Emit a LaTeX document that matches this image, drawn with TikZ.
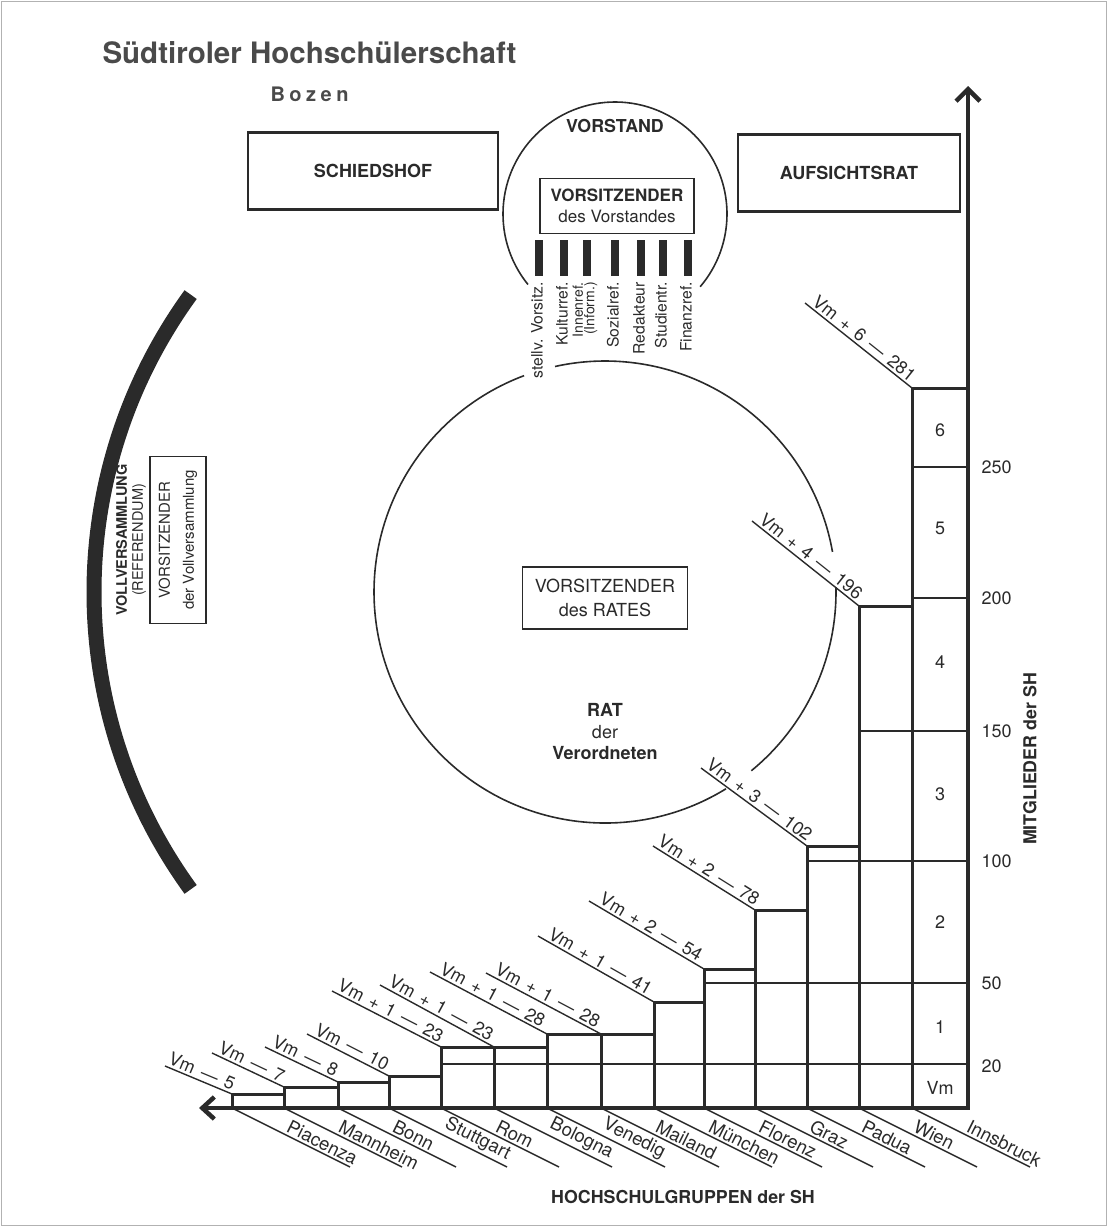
\documentclass[tikz,border=0pt]{standalone}
\usepackage{fontspec}
\setmainfont{TeX Gyre Heros}
\usepackage{tikz}
\usetikzlibrary{positioning, arrows.meta}
\definecolor{ink}{HTML}{2A2A2A}
\definecolor{headgray}{HTML}{4A4A4A}
\newcommand{\fsz}[2]{\fontsize{#1}{#2}\selectfont}
\newcommand{\widespaced}[1]{{\spaceskip=0.42em\relax #1}}

\tikzset{
  panel/.style={draw=ink, line width=2.2pt, minimum width=250pt, minimum height=77pt, font=\fsz{18}{20}\bfseries, text=ink},
  ring/.style={draw=ink, line width=1.6pt},
  barline/.style={draw=ink, line width=3pt},
  levelline/.style={draw=ink, line width=1.2pt},
  leader/.style={draw=ink, line width=1.4pt},
  axisline/.style={draw=ink, line width=4.5pt},
  dutybar/.style={fill=ink, minimum width=8pt, minimum height=36pt, inner sep=0pt},
  dutylabel/.style={rotate=90, anchor=east, font=\fsz{15.7}{16}, text=ink, inner sep=1pt},
  vmlabel/.style={font=\fsz{18}{19}, text=ink, inner sep=2pt},
  citylabel/.style={font=\fsz{18.5}{19}, text=ink, inner sep=2pt},
  ticklabel/.style={anchor=west, font=\fsz{18}{18}, text=ink},
  caption/.style={font=\fsz{17.8}{19}\bfseries, text=ink}
}

\begin{document}
\begin{tikzpicture}[x=1pt, y=-1pt]
\useasboundingbox (0,0) rectangle (1108,1227);
\draw[gray!60, line width=1pt] (1.5,1.5) rectangle (1106.5,1225.5);

% heading
\node[anchor=west, font=\fsz{29.5}{31}\bfseries, text=headgray] (title) at (99,53) {Südtiroler Hochschülerschaft};
\node[anchor=west, font=\fsz{20}{20}\bfseries, text=headgray] (town) at (267,94) {B\kern4.5pt o\kern4.5pt z\kern4.5pt e\kern4.5pt n};

% upper boxes
\node[panel] (court) at (373,171) {SCHIEDSHOF};
\node[panel, minimum width=222pt] (board) at (849,173) {AUFSICHTSRAT};

% Vorstand
\coordinate (vc) at (615,214);
\draw[ring] (vc) ++(141:112) arc[start angle=141, end angle=400.5, radius=112];
\node[font=\fsz{17.8}{19}\bfseries, text=ink] (vorstand) at (615,126) {VORSTAND};
\node[draw=ink, line width=1.8pt, align=center, font=\fsz{17}{21}, text=ink, minimum width=154pt, minimum height=55pt, inner sep=2pt] (chair) at (617,206) {\textbf{VORSITZENDER}\\des Vorstandes};
\foreach \x [count=\i] in {539,564,587,615,641,663,688}
  \node[dutybar] (duty\i) at (\x,258) {};
\node[dutylabel] (role1) at (537,281) {stellv. Vorsitz.};
\node[dutylabel] (role2) at (562,281) {Kulturref.};
\node[dutylabel, align=right, font=\fsz{14}{11.5}] (role3) at (585,281) {Innenref.\\(Inform.)};
\node[dutylabel] (role4) at (613,281) {Sozialref.};
\node[dutylabel] (role5) at (639,281) {Redakteur};
\node[dutylabel] (role6) at (661,281) {Studientr.};
\node[dutylabel] (role7) at (686,281) {Finanzref.};

% Rat der Verordneten
\coordinate (rc) at (605,592);
\draw[ring] (rc) ++(-102.5:231) arc[start angle=-102.5, end angle=-10, radius=231];
\draw[ring] (rc) ++(-1.2:231) arc[start angle=-1.2, end angle=50.7, radius=231];
\draw[ring] (rc) ++(58.4:231) arc[start angle=58.4, end angle=249.5, radius=231];
\node[draw=ink, line width=1.5pt, align=center, font=\fsz{18}{24}, text=ink, minimum width=165pt, minimum height=62pt] (ratchair) at (605,598) {VORSITZENDER\\des RATES};
\node[align=center, font=\fsz{18}{21.5}, text=ink] (council) at (605,732) {\textbf{RAT}\\der\\\textbf{Verordneten}};

% Vollversammlung
\coordinate (ac) at (600,592);
\draw[draw=ink, line width=15pt] (ac) ++(144:506) arc[start angle=144, end angle=216, radius=506];
\node[rotate=90, align=center, font=\fsz{14.5}{16}, text=ink] (assembly) at (131,540) {\textbf{VOLLVERSAMMLUNG}\\(REFERENDUM)};
\node[rotate=90, draw=ink, line width=1.3pt, align=center, font=\fsz{15}{24}, text=ink, minimum width=167pt, minimum height=56pt] (assemblychair) at (178,540) {VORSITZENDER\\der Vollversammlung};

% Saeulen der Hochschulgruppen
\draw[levelline] (441,1064) -- (968,1064);
\draw[levelline] (704,983) -- (968,983);
\draw[levelline] (807,861) -- (968,861);
\draw[levelline] (859,731) -- (968,731);
\draw[levelline] (912,598) -- (968,598);
\draw[levelline] (912,467) -- (968,467);
\foreach \l/\r/\t in {232/284/1094, 284/338/1087, 338/389/1082, 389/441/1076, 441/494/1047, 494/547/1047, 547/601/1034, 601/654/1034, 654/704/1002, 704/755/969, 755/807/910, 807/859/846, 859/912/606, 912/968/388}
  \draw[barline] (\l,1108) rectangle (\r,\t);

% Vertreterzahlen
\foreach \sx/\sy/\ex/\ey/\txt [count=\i] in {165/1066/232/1094/{Vm — 5}, 212/1053/284/1087/{Vm — 7}, 265/1047/338/1082/{Vm — 8}, 307/1034/389/1076/{Vm — 10}, 332/991/441/1047/{Vm + 1 — 23}, 380/985/494/1047/{Vm + 1 — 23}, 430/972/547/1034/{Vm + 1 — 28}, 486/973/601/1034/{Vm + 1 — 28}, 538/936/654/1002/{Vm + 1 — 41}, 589/901/704/969/{Vm + 2 — 54}, 653/846/755/910/{Vm + 2 — 78}, 701/768/807/846/{Vm + 3 — 102}, 752/521/859/606/{Vm + 4 — 196}, 805/303/912/388/{Vm + 6 — 281}}
  \draw[leader] (\sx,\sy) -- (\ex,\ey) node[vmlabel, midway, above, sloped] (vm\i) {\widespaced{\txt}};

% Orte
\foreach \l/\city [count=\i] in {232/Piacenza, 284/Mannheim, 338/Bonn, 389/Stuttgart, 441/Rom, 494/Bologna, 547/Venedig, 601/Mailand, 654/München, 704/Florenz, 755/Graz, 807/Padua, 859/Wien, 912/Innsbruck}
  \draw[leader] (\l,1108) -- ++(118,59) node[citylabel, pos=0.42, sloped, anchor=south west] (city\i) {\city};

% Achsen
\coordinate (origin) at (968,1108);
\coordinate (ytip) at (968,86);
\coordinate (xtip) at (199,1108);
\draw[axisline, -{Straight Barb[length=12pt, width=24pt]}] (origin) -- (ytip);
\draw[axisline, -{Straight Barb[length=12pt, width=22pt]}] (origin) -- (xtip);

\foreach \y/\n in {1088/Vm, 1027/1, 922/2, 794/3, 662/4, 528/5, 430/6}
  \node[vmlabel] (share\n) at (940,\y) {\n};
\foreach \y/\v in {1066/20, 983/50, 861/100, 731/150, 598/200, 467/250}
  \node[ticklabel] (tick\v) at (978,\y) {\v};

\node[caption, rotate=90] (members) at (1030,759) {MITGLIEDER der SH};
\node[caption] (groups) at (683,1197) {HOCHSCHULGRUPPEN der SH};
\end{tikzpicture}
\end{document}
